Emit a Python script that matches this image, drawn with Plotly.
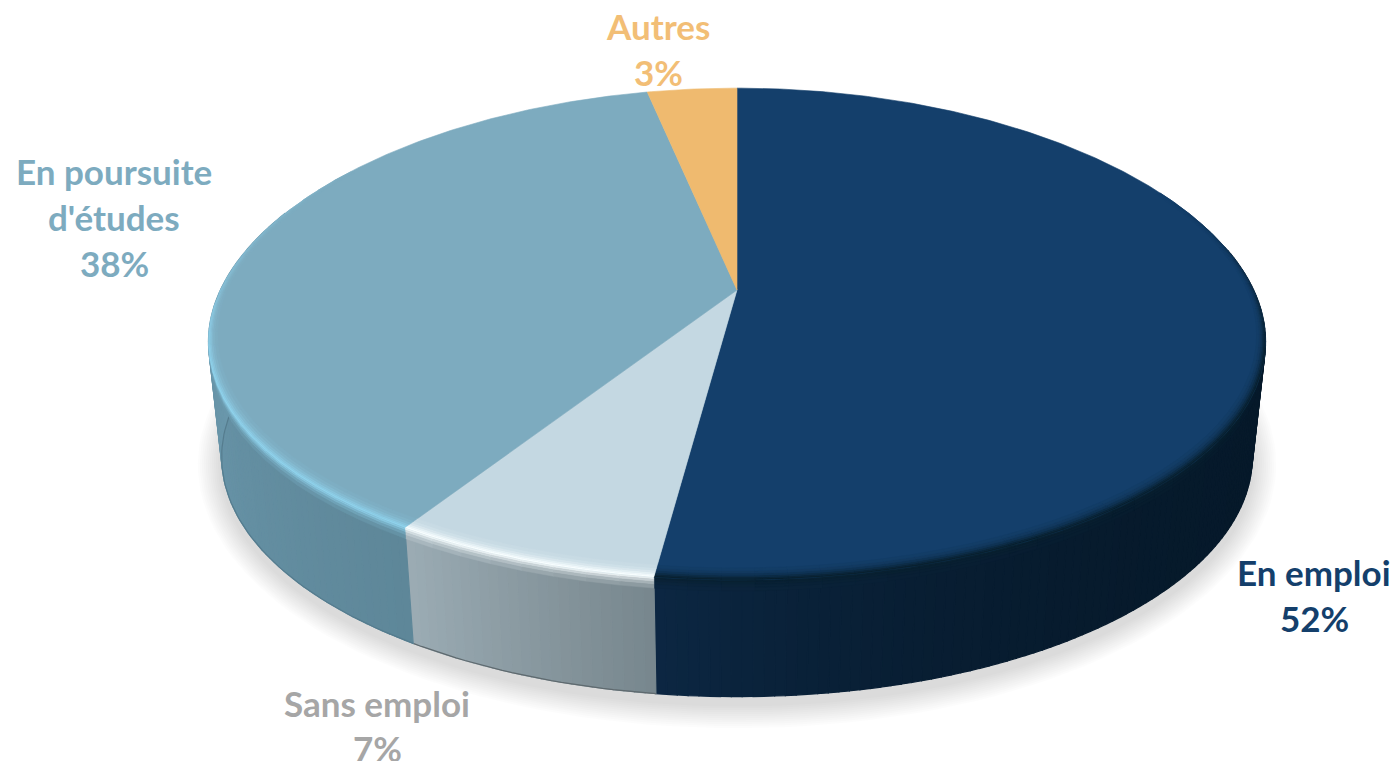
import numpy as np
import plotly.graph_objects as go

# ---- data ----
categories = ["En emploi", "Sans emploi", "En poursuite\nd'études", "Autres"]
values = [52.1, 7.03, 37.62, 3.25]          # slice shares as measured; labels show them rounded
top_colors = ["#143F6B", "#C4D8E2", "#7DABBF", "#EFBA6F"]
label_colors = ["#143F6B", "#A6A6A6", "#7DABBF", "#F2BE76"]
label_centers = [(1314, 572), (377, 703), (114, 171), (658, 26)]  # first line centre
line_gaps = [46, 45, 46, 46]

# wall shading: (colour at low angle, colour at high angle), with a curve exponent
side_colors = [("#06192A", "#0C2743", 4.0), ("#78878E", "#9CADB5", 1.0),
               ("#5E8799", "#6F9EB3", 1.0), ("#D9A85F", "#D9A85F", 1.0)]
rim_peaks = ["#08202F", "#F8FEFF", "#8FD2EC", "#EFBA6F"]
bottom_edges = [None, "#5F6A6F", "#557C8E", None]

# ---- projection of the disc ----
CX, CY = 737.0, 290.0
RX, RY, K = 520.0, 238.0, 0.179
WARP = 8.0
BOTTOM_SCALE, BOTTOM_Y = 0.975, 414.0


def project(theta_deg, r=1.0):
    t = np.radians(theta_deg)
    d = 1 + K * r * np.cos(t)
    return (CX + RX * r * np.sin(t) / d,
            CY - RY * r * np.cos(t) / d + WARP * (np.sin(t) * r) ** 2)


def project_bottom(theta_deg):
    t = np.radians(theta_deg)
    x, y = project(theta_deg)
    y = y - WARP * np.sin(t) ** 2
    return CX + BOTTOM_SCALE * (x - CX), BOTTOM_Y + BOTTOM_SCALE * (y - CY)


def rgb(h):
    return np.array([int(h[i:i + 2], 16) for i in (1, 3, 5)], float)


def mix(a, b, w):
    c = rgb(a) * (1 - w) + rgb(b) * w
    return "#%02x%02x%02x" % tuple(int(round(v)) for v in c)


fig = go.Figure()


def poly(xs, ys, color, seam=1.2):
    fig.add_trace(go.Scatter(
        x=list(xs), y=list(ys), mode="lines", fill="toself", fillcolor=color,
        line=dict(color=color, width=seam), hoverinfo="skip", showlegend=False))


# soft ground shadow
tt = np.linspace(0, 360, 181)
bx, by = project_bottom(tt)
for g in np.arange(24, 0, -2.0):
    ex = CX + (bx - CX) * (1 + g / 515)
    ey = 468 + (by - 460) * (1 + g / 240)
    fig.add_trace(go.Scatter(x=ex, y=ey, mode="lines", fill="toself", line=dict(width=0),
                             fillcolor="rgba(0,0,0,0.012)", hoverinfo="skip", showlegend=False))

# slice limits
edges = np.concatenate([[0], np.cumsum(values)]) / sum(values) * 360


def wall_color(i, w):
    lo, hi, p = side_colors[i]
    return mix(lo, hi, w ** p)


# walls
for i in range(len(values)):
    a0, a1 = max(edges[i], 78), min(edges[i + 1], 292)
    if a1 <= a0:
        continue
    n = max(1, int(a1 - a0))
    grid = np.linspace(a0, a1, n + 1)
    for j in range(n):
        w = (grid[j] - a0) / max(a1 - a0, 1e-6)
        tx0, ty0 = project(grid[j])
        tx1, ty1 = project(grid[j + 1])
        bx0, by0 = project_bottom(grid[j])
        bx1, by1 = project_bottom(grid[j + 1])
        poly([tx0, tx1, bx1, bx0, tx0], [ty0, ty1, by1, by0, ty0], wall_color(i, w))
    # thin darker foot of the wall
    if bottom_edges[i]:
        ax, ay = project_bottom(grid)
        fig.add_trace(go.Scatter(x=ax, y=ay, mode="lines", line=dict(color=bottom_edges[i], width=1.2),
                                 hoverinfo="skip", showlegend=False))

# bevelled rim, only on the front of the disc: soft ramp on the upper wall and on the top
top_bands = [(0.000, 0.004, 1.0), (0.004, 0.008, 0.85), (0.008, 0.013, 0.62),
             (0.013, 0.019, 0.38), (0.019, 0.026, 0.2), (0.026, 0.034, 0.08)]
wall_bands = [(0.00, 0.02, 0.85), (0.02, 0.04, 0.6), (0.04, 0.065, 0.35), (0.065, 0.095, 0.15)]


def rim_width(deg):
    return 0.38 + 0.62 * max(0.0, -np.cos(np.radians(deg)))


def rim_segments(i):
    a0, a1 = max(edges[i], 62), min(edges[i + 1], 305)
    if a1 <= a0:
        return
    n = max(1, int((a1 - a0) / 3))
    grid = np.linspace(a0, a1, n + 1)
    for j in range(n):
        g0, g1 = grid[j], grid[j + 1]
        mid = (g0 + g1) / 2
        fade = float(np.clip(min((mid - 62) / 40, (305 - mid) / 50), 0, 1))
        yield g0, g1, mid, fade, (mid - a0) / (a1 - a0)


# wall part of the bevel goes under the top faces
for i in range(len(values)):
    for g0, g1, mid, fade, w in rim_segments(i) or []:
        if not 78 <= mid <= 292:
            continue
        base_wall = wall_color(i, w)
        for f1, f2, amt in wall_bands:
            pts = []
            for deg, f in ((g0, f1), (g1, f1), (g1, f2), (g0, f2)):
                tx, ty = project(deg)
                qx, qy = project_bottom(deg)
                pts.append((tx + (qx - tx) * f, ty + (qy - ty) * f))
            xs, ys = zip(*(pts + pts[:1]))
            poly(xs, ys, mix(base_wall, rim_peaks[i], amt * fade), seam=0.5)

# top faces
for i in range(len(values)):
    grid = np.linspace(edges[i], edges[i + 1], max(8, int(edges[i + 1] - edges[i]) * 2))
    x, y = project(grid)
    poly(np.r_[CX, x, CX], np.r_[CY, y, CY], top_colors[i], seam=0.6)

# top part of the bevel
for i in range(len(values)):
    for g0, g1, mid, fade, w in rim_segments(i) or []:
        w0, w1 = rim_width(g0), rim_width(g1)
        for d1, d2, amt in top_bands:
            pts = []
            for deg, d, wd in ((g0, d1, w0), (g1, d1, w1), (g1, d2, w1), (g0, d2, w0)):
                pts.append(project(deg, 1 - d * wd))
            xs, ys = zip(*(pts + pts[:1]))
            poly(xs, ys, mix(top_colors[i], rim_peaks[i], amt * fade), seam=0.5)

# labels
for cat, val, col, (lx, ly), gap in zip(categories, values, label_colors, label_centers, line_gaps):
    lines = cat.split("\n") + [f"{round(val)}%"]
    for n, line in enumerate(lines):
        fig.add_annotation(x=lx, y=ly + n * gap, text=f"<b>{line}</b>", showarrow=False,
                           xanchor="center", yanchor="middle",
                           font=dict(family="Lato, Carlito, sans-serif", size=35, color=col))

fig.update_layout(
    width=1396, height=761, margin=dict(l=0, r=0, t=0, b=0),
    paper_bgcolor="white", plot_bgcolor="white", showlegend=False,
    xaxis=dict(range=[0, 1396], visible=False, fixedrange=True),
    yaxis=dict(range=[761, 0], visible=False, fixedrange=True),
)
fig.write_html("out.html", config={"displayModeBar": False},
               post_script="document.body.style.margin='0';document.body.style.overflow='hidden';")
